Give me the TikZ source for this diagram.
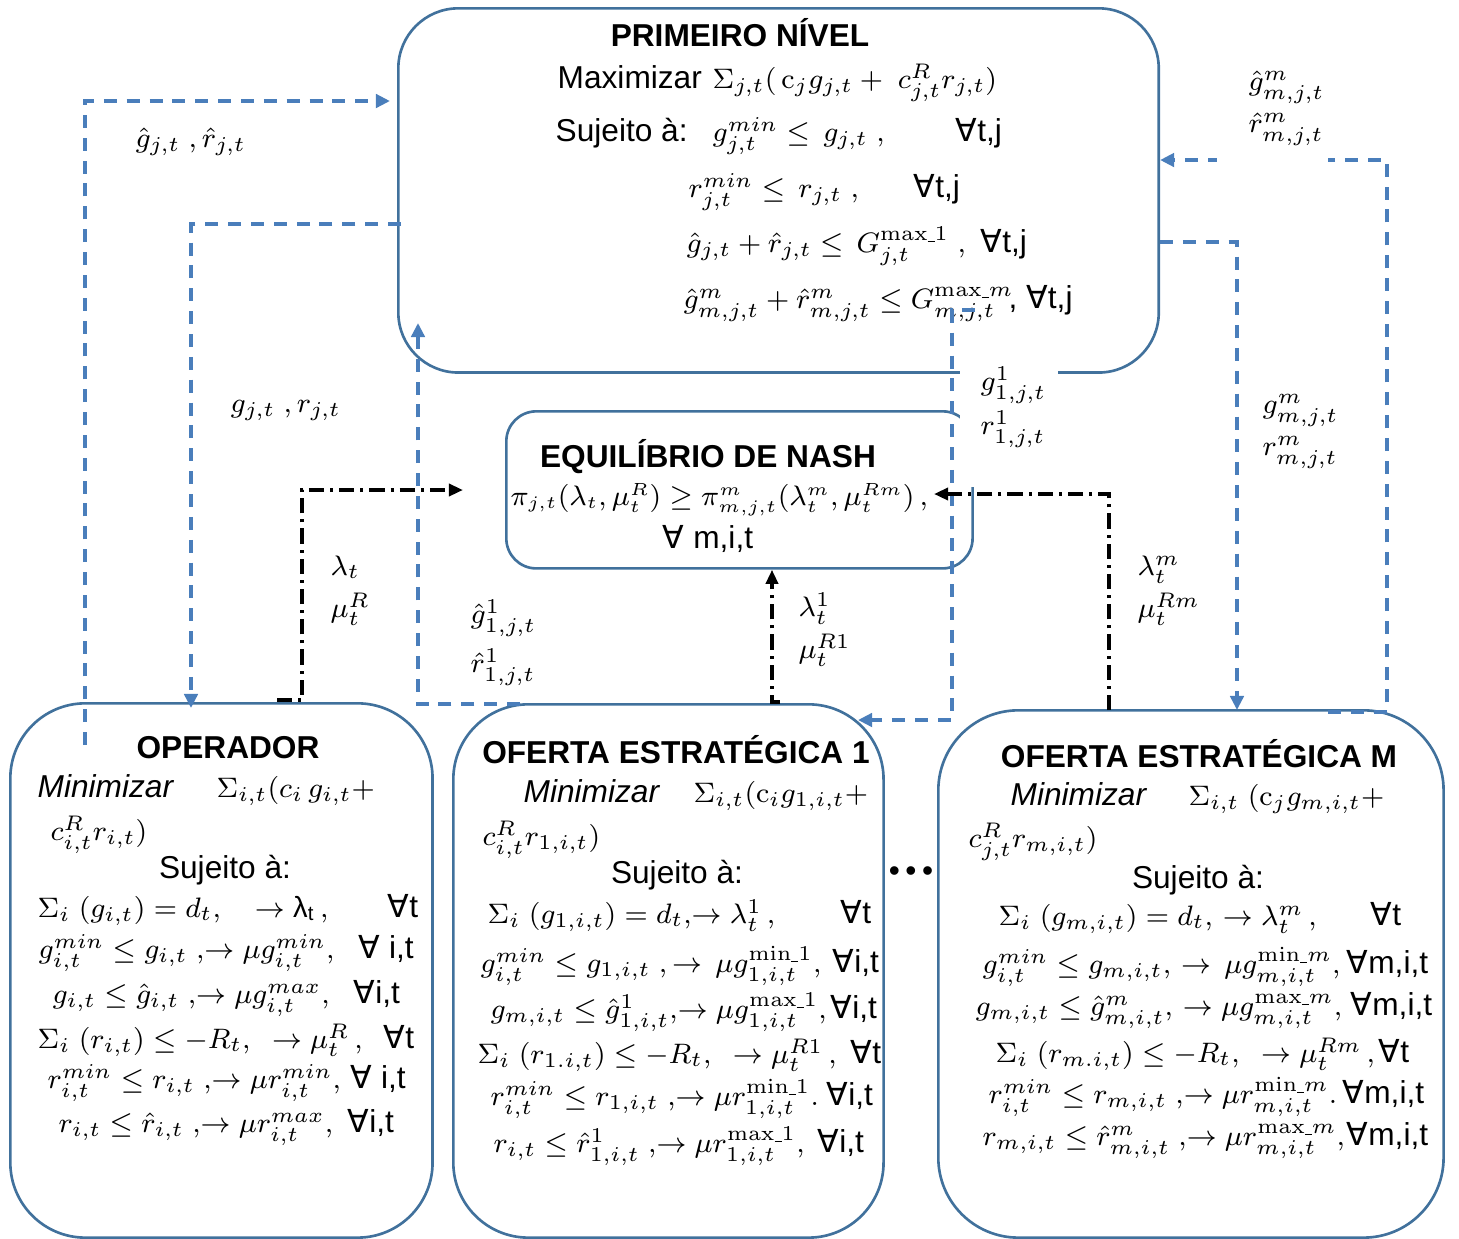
\documentclass[tikz,border=0pt]{standalone}
\usepackage[no-math]{fontspec}
\setmainfont{Liberation Sans}
\newfontfamily\symf{DejaVu Sans}
\usetikzlibrary{arrows.meta}
\definecolor{boxblue}{RGB}{65,113,156}
\definecolor{linkblue}{RGB}{74,126,187}
\newcommand{\fall}{{\symf ∀}}
\newcommand{\sm}{\Sigma}
\newcommand{\us}{\rule[-0.4pt]{2pt}{0.3pt}}

\begin{document}
\begin{tikzpicture}[x=0.01cm,y=-0.01cm,
    box/.style={draw=boxblue, line width=0.75pt, anchor=north west, inner sep=0pt},
    ttl/.style={font=\fontsize{9}{11}\selectfont\bfseries, anchor=base, inner sep=0pt},
    txt/.style={font=\fontsize{9}{11}\selectfont, anchor=base west, inner sep=0pt},
    mth/.style={font=\fontsize{8.3}{10}\selectfont, anchor=base west, inner sep=0pt},
    link/.style={draw=linkblue, line width=1.1pt, dash pattern=on 3.7pt off 2.8pt, -{Triangle[length=4pt,width=3.8pt]}},
    price/.style={draw=black, line width=1pt, dash pattern=on 4.3pt off 1.7pt on 0.9pt off 1.7pt, -{Triangle[length=4pt,width=3.4pt]}}]
    \useasboundingbox (0,0) rectangle (1459,1238);

    % caixas
    \node[box, rounded corners=0.6cm, minimum width=7.6cm, minimum height=3.64cm] (pn) at (397,7) {};
    \node[box, rounded corners=0.3cm, minimum width=4.66cm, minimum height=1.57cm] (nash) at (505,410) {};
    \node[box, rounded corners=0.75cm, minimum width=4.22cm, minimum height=5.34cm] (op) at (9,702) {};
    \node[box, rounded corners=0.75cm, minimum width=4.3cm, minimum height=5.33cm] (of1) at (452,703) {};
    \node[box, rounded corners=0.8cm, minimum width=5.05cm, minimum height=5.27cm] (ofm) at (937,709) {};

    % primeiro nivel
    \node[ttl] (pnT) at (740,46) {PRIMEIRO NÍVEL};
    \node[txt] (pnMax) at (557,88) {Maximizar};
    \node[mth] (pnObj) at (712,88) {$\sm_{j,t}(\,\mathrm{c}_j g_{j,t} +\; c^R_{j,t} r_{j,t})$};
    \node[txt] (pnSuj) at (555,141) {Sujeito à:};
    \node[mth] (pnC1) at (712,141) {$g^{min}_{j,t} \le\, g_{j,t}\;,$};
    \node[txt] (pnF1) at (955,141) {\fall t,j};
    \node[mth] (pnC2) at (688,197) {$r^{min}_{j,t} \le\, r_{j,t}\;,$};
    \node[txt] (pnF2) at (913,197) {\fall t,j};
    \node[mth] (pnC3) at (686,252) {$\hat g_{j,t} + \hat r_{j,t} \le\, G^{\mathrm{max}\us\mathrm{1}}_{j,t}\;,$};
    \node[txt] (pnF3) at (980,252) {\fall t,j};
    \node[mth] (pnC4) at (683,308) {$\hat g^m_{m,j,t} + \hat r^m_{m,j,t} \le G^{\mathrm{max}\us m}_{m,j,t}$};
    \node[txt] (pnF4) at (1008,308) {,\ \fall t,j};

    % equilibrio
    \node[ttl] (nashT) at (708,467) {EQUILÍBRIO DE NASH};
    \node[mth, font=\fontsize{7.8}{10}\selectfont] (nashC) at (510,505) {$\pi_{j,t}(\lambda_t,\mu^R_t) \ge \pi^m_{m,j,t}(\lambda^m_t,\mu^{Rm}_t)\,,$};
    \node[txt, anchor=base] (nashF) at (708,548) {\fall\ m,i,t};

    % operador
    \node[ttl] (opT) at (228,758) {OPERADOR};
    \node[txt] (opMin) at (37,797) {\itshape Minimizar};
    \node[mth] (opObj) at (216,797) {$\sm_{i,t}(c_i\, g_{i,t} +$};
    \node[mth] (opObj2) at (50,840) {$c^R_{i,t} r_{i,t})$};
    \node[txt, anchor=base] (opSuj) at (225,878) {Sujeito à:};
    \node[mth] (opC1) at (37,917) {$\sm_i\; (g_{i,t}) = d_t,\quad \rightarrow \mbox{λ\textsubscript{t}}\,,$};
    \node[txt] (opF1) at (387,917) {\fall t};
    \node[mth] (opC2) at (38,958) {$g^{min}_{i,t} \le g_{i,t}\;,\!\rightarrow \mu g^{min}_{i,t},$};
    \node[txt] (opF2) at (358,958) {\fall\ i,t};
    \node[mth] (opC3) at (52,1003) {$g_{i,t} \le \hat g_{i,t}\;,\!\rightarrow \mu g^{max}_{i,t},$};
    \node[txt] (opF3) at (353,1003) {\fall i,t};
    \node[mth] (opC4) at (37,1048) {$\sm_i\; (r_{i,t}) \le -R_t,\;\; \rightarrow \mu^R_t\,,$};
    \node[txt] (opF4) at (383,1048) {\fall t};
    \node[mth] (opC5) at (47,1088) {$r^{min}_{i,t} \le r_{i,t}\;,\!\rightarrow \mu r^{min}_{i,t},$};
    \node[txt] (opF5) at (350,1088) {\fall\ i,t};
    \node[mth] (opC6) at (58,1132) {$r_{i,t} \le \hat r_{i,t}\;,\!\rightarrow \mu r^{max}_{i,t},$};
    \node[txt] (opF6) at (347,1132) {\fall i,t};

    % oferta estrategica 1
    \node[ttl] (of1T) at (676,763) {OFERTA ESTRATÉGICA 1};
    \node[txt] (of1Min) at (523,802) {\itshape Minimizar};
    \node[mth] (of1Obj) at (693,802) {$\sm_{i,t}(\mathrm{c}_i g_{1,i,t} +$};
    \node[mth] (of1Obj2) at (482,845) {$c^R_{i,t} r_{1,i,t})$};
    \node[txt, anchor=base] (of1Suj) at (677,883) {Sujeito à:};
    \node[mth] (of1C1) at (487,923) {$\sm_i\; (g_{1,i,t}) = d_t,\!\rightarrow \lambda^1_t\,,$};
    \node[txt] (of1F1) at (840,923) {\fall t};
    \node[mth] (of1C2) at (480,972) {$g^{min}_{i,t} \le g_{1,i,t}\;,\rightarrow\, \mu g^{\mathrm{min}\us\mathrm{1}}_{1,i,t},$};
    \node[txt] (of1F2) at (832,972) {\fall i,t};
    \node[mth] (of1C3) at (490,1018) {$g_{m,i,t} \le \hat g^1_{1,i,t},\!\rightarrow \mu g^{\mathrm{max}\us\mathrm{1}}_{1,i,t},$};
    \node[txt] (of1F3) at (830,1018) {\fall i,t};
    \node[mth] (of1C4) at (477,1063) {$\sm_i\; (r_{1.i,t}) \le -R_t,\;\; \rightarrow \mu^{R1}_t\,,$};
    \node[txt] (of1F4) at (850,1063) {\fall t};
    \node[mth] (of1C5) at (490,1105) {$r^{min}_{i,t} \le r_{1,i,t}\;,\!\rightarrow \mu r^{\mathrm{min}\us\mathrm{1}}_{1,i,t}.$};
    \node[txt] (of1F5) at (826,1105) {\fall i,t};
    \node[mth] (of1C6) at (493,1152) {$r_{i,t} \le \hat r^1_{1,i,t}\;,\!\rightarrow \mu r^{\mathrm{max}\us\mathrm{1}}_{1,i,t},$};
    \node[txt] (of1F6) at (817,1152) {\fall i,t};

    \node[font=\fontsize{9}{9}\selectfont] (dots) at (911,874) {•\hspace{1.6pt}•\hspace{1.6pt}•};

    % oferta estrategica m
    \node[ttl] (ofmT) at (1199,767) {OFERTA ESTRATÉGICA M};
    \node[txt] (ofmMin) at (1010,805) {\itshape Minimizar};
    \node[mth] (ofmObj) at (1188,805) {$\sm_{i,t}\; (\mathrm{c}_j g_{m,i,t} +$};
    \node[mth] (ofmObj2) at (968,847) {$c^R_{j,t} r_{m,i,t})$};
    \node[txt, anchor=base] (ofmSuj) at (1198,888) {Sujeito à:};
    \node[mth] (ofmC1) at (998,925) {$\sm_i\; (g_{m,i,t}) = d_t,\, \rightarrow \lambda^m_t\,,$};
    \node[txt] (ofmF1) at (1370,925) {\fall t};
    \node[mth] (ofmC2) at (982,973) {$g^{min}_{i,t} \le g_{m,i,t},\, \rightarrow\, \mu g^{\mathrm{min}\us m}_{m,i,t},$};
    \node[txt] (ofmF2) at (1346,973) {\fall m,i,t};
    \node[mth] (ofmC3) at (975,1015) {$g_{m,i,t} \le \hat g^m_{m,i,t},\, \rightarrow \mu g^{\mathrm{max}\us m}_{m,i,t},$};
    \node[txt] (ofmF3) at (1350,1015) {\fall m,i,t};
    \node[mth] (ofmC4) at (995,1062) {$\sm_i\; (r_{m.i,t}) \le -R_t,\;\; \rightarrow \mu^{Rm}_t\,,$};
    \node[txt] (ofmF4) at (1378,1062) {\fall t};
    \node[mth] (ofmC5) at (988,1103) {$r^{min}_{i,t} \le r_{m,i,t}\;,\!\rightarrow \mu r^{\mathrm{min}\us m}_{m,i,t}.$};
    \node[txt] (ofmF5) at (1342,1103) {\fall m,i,t};
    \node[mth] (ofmC6) at (982,1145) {$r_{m,i,t} \le \hat r^m_{m,i,t}\;,\!\rightarrow \mu r^{\mathrm{max}\us m}_{m,i,t},$};
    \node[txt] (ofmF6) at (1346,1145) {\fall m,i,t};

    % pontos das ligacoes
    \coordinate (opA) at (85,745);
    \coordinate (pnA) at (pn.west |- 0,101);
    \coordinate (pnB) at (401,224);
    \coordinate (opB) at (191,708);
    \coordinate (of1C) at (520,704);
    \coordinate (pnC) at (418,323);
    \coordinate (pnD) at (975,310);
    \coordinate (of1D) at (858,720);
    \coordinate (pnE) at (pn.east |- 0,242);
    \coordinate (ofmE) at (1237,710);
    \coordinate (ofmF) at (1328,712);
    \coordinate (pnF) at (pn.east |- 0,160);
    \coordinate (opG) at (277,700);
    \coordinate (nashG) at (463,490);
    \coordinate (of1H) at (780,702);
    \coordinate (nashH) at (nash.south -| 772,0);
    \coordinate (ofmI) at (1109,710);
    \coordinate (nashI) at (934,494);

    % ligacoes
    \draw[link, shorten >=2pt] (opA) |- (pnA);
    \draw[link] (pnB) -| (opB);
    \draw[link] (of1C) -| (pnC);
    \draw[link] (pnD) -- ++(-23,0) |- (of1D);
    \draw[link] (pnE) -| (ofmE);
    \draw[link] (ofmF) -- ++(59,0) |- (pnF);

    \draw[price] (opG) -- ++(25,0) |- (nashG);
    \draw[price] (of1H) -| (nashH);
    \draw[price] (ofmI) |- (nashI);

    % rotulos
    \fill[white] (960,352) rectangle (1058,487);
    \fill[white] (1217,50) rectangle (1328,168);
    \node[mth] (lA) at (135,147) {$\hat g_{j,t}\;,\hat r_{j,t}$};
    \node[mth] (lB) at (230,412) {$g_{j,t}\;,r_{j,t}$};
    \node[mth] (lC1) at (470,623) {$\hat g^1_{1,j,t}$};
    \node[mth] (lC2) at (470,672) {$\hat r^1_{1,j,t}$};
    \node[mth] (lD1) at (980,390) {$g^1_{1,j,t}$};
    \node[mth] (lD2) at (980,434) {$r^1_{1,j,t}$};
    \node[mth] (lE1) at (1262,413) {$g^m_{m,j,t}$};
    \node[mth] (lE2) at (1262,455) {$r^m_{m,j,t}$};
    \node[mth] (lF1) at (1248,90) {$\hat g^m_{m,j,t}$};
    \node[mth] (lF2) at (1248,132) {$\hat r^m_{m,j,t}$};
    \node[mth] (lG1) at (330,575) {$\lambda_t$};
    \node[mth] (lG2) at (330,617) {$\mu^R_t$};
    \node[mth] (lH1) at (798,616) {$\lambda^1_t$};
    \node[mth] (lH2) at (798,658) {$\mu^{R1}_t$};
    \node[mth] (lI1) at (1137,575) {$\lambda^m_t$};
    \node[mth] (lI2) at (1137,617) {$\mu^{Rm}_t$};
\end{tikzpicture}
\end{document}
